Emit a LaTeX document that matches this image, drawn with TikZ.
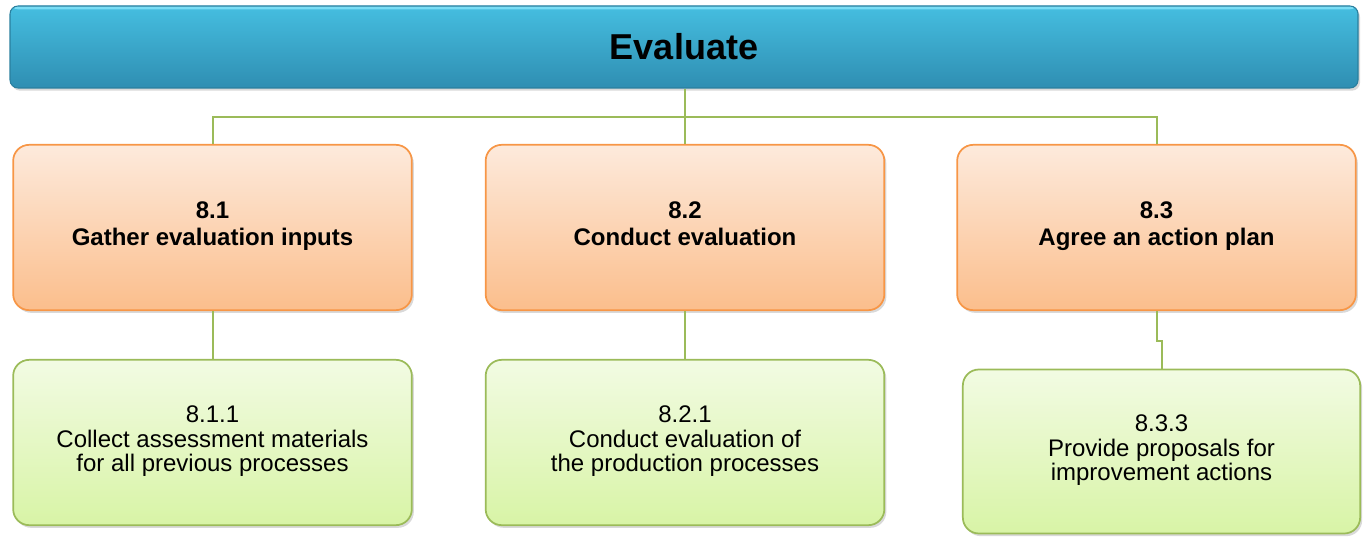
\documentclass[tikz,border=0pt]{standalone}
\usepackage{fontspec}
\setmainfont{Liberation Sans}
\usetikzlibrary{shadows}

\definecolor{barTop}{HTML}{45BEE0}
\definecolor{barBot}{HTML}{2F8EB2}
\definecolor{barEdge}{HTML}{2A7F9E}
\definecolor{barLight}{HTML}{7ADDF5}
\definecolor{orTop}{HTML}{FDEADC}
\definecolor{orBot}{HTML}{FBBE8C}
\definecolor{orEdge}{HTML}{F79646}
\definecolor{grTop}{HTML}{F2FBE3}
\definecolor{grBot}{HTML}{D8F4A6}
\definecolor{grEdge}{HTML}{9BBB59}

\tikzset{
  boxshadow/.style={drop shadow={opacity=0.3, shadow xshift=1.5pt, shadow yshift=-2pt}},
  topbar/.style={rounded corners=6pt, draw=barEdge, line width=0.8pt, top color=barTop, bottom color=barBot,
    boxshadow, minimum width=1011pt, minimum height=61.5pt, font=\fontsize{27}{30}\selectfont\bfseries,
    path picture={\fill[barLight] (path picture bounding box.north west) rectangle ([yshift=-2.5pt]path picture bounding box.north east);}},
  stagebox/.style={rounded corners=12pt, draw=orEdge, line width=1.3pt, top color=orTop, bottom color=orBot,
    boxshadow, minimum width=299pt, minimum height=124pt, align=center, font=\fontsize{18}{20.5}\selectfont\bfseries,
    execute at begin node=\strut, execute at end node={\rule[-1pt]{0pt}{1pt}}},
  taskbox/.style={rounded corners=12pt, draw=grEdge, line width=1.3pt, top color=grTop, bottom color=grBot,
    boxshadow, minimum width=299pt, minimum height=124pt, align=center, font=\fontsize{18}{18.5}\selectfont,
    execute at begin node=\strut, execute at end node={\rule[-1pt]{0pt}{1pt}}},
  link/.style={draw=grEdge, line width=1.5pt}
}

\begin{document}
\begin{tikzpicture}[x=0.75pt, y=-0.75pt]
  \useasboundingbox (0,0) rectangle (1363,542);

  \node[topbar] (eval) at (684,47) {Evaluate};

  \node[stagebox] (s1) at (212.5,227.5) {8.1\\Gather evaluation inputs};
  \node[stagebox] (s2) at (685,227.5) {8.2\\Conduct evaluation};
  \node[stagebox] (s3) at (1156.5,227.5) {8.3\\Agree an action plan};

  \node[taskbox] (t1) at (212.5,442.5) {8.1.1\\Collect assessment materials\\for all previous processes};
  \node[taskbox] (t2) at (685,442.5) {8.2.1\\Conduct evaluation of\\the production processes};
  \node[taskbox, minimum width=298pt, minimum height=123pt] (t3) at (1161.5,451.5) {8.3.3\\Provide proposals for\\improvement actions};

  \coordinate (hub) at (685,117);
  \draw[link] (eval.south -| hub) -- (hub);
  \draw[link] (s1.north) |- (hub) -| (s3.north);
  \draw[link] (hub) -- (s2.north);
  \draw[link] (s1.south) -- (t1.north);
  \draw[link] (s2.south) -- (t2.north);
  \draw[link] (s3.south) -- ++(0,30) -| (t3.north);
\end{tikzpicture}
\end{document}
